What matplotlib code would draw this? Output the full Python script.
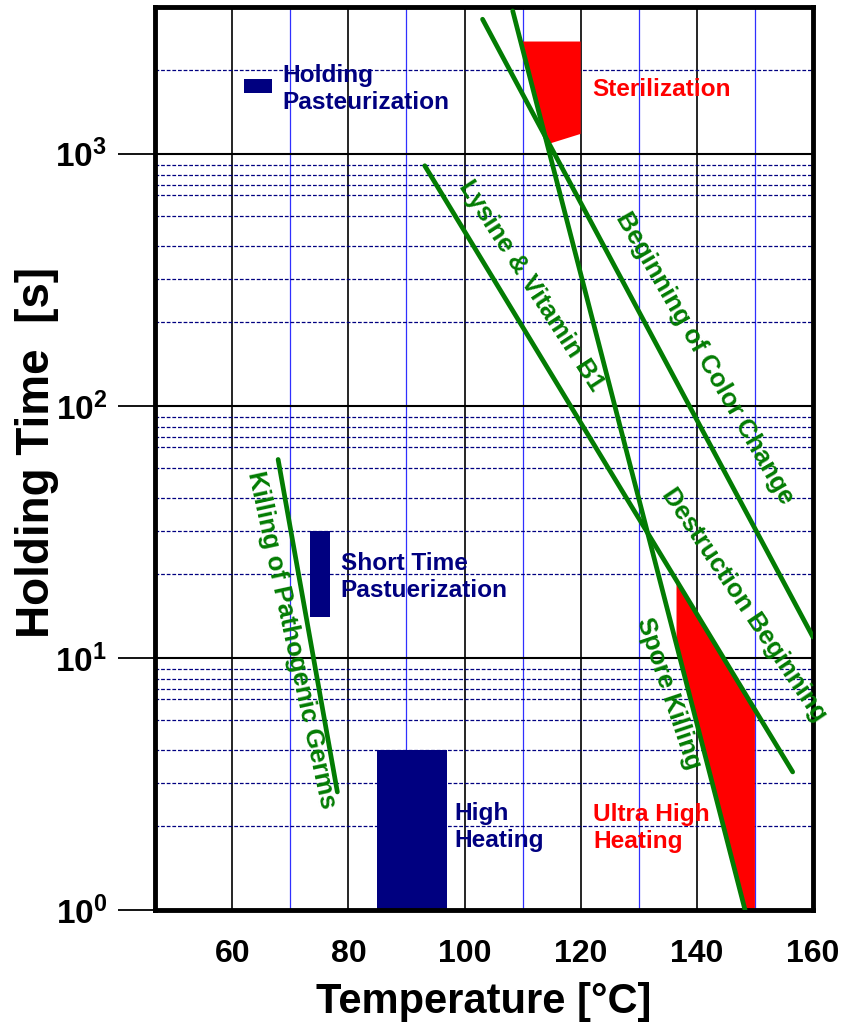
import numpy as np
import matplotlib
matplotlib.use("Agg")
import matplotlib.pyplot as plt
from matplotlib.ticker import FixedLocator, LogLocator, NullFormatter

plt.rcParams['font.family'] = ['Liberation Sans', 'DejaVu Sans']
plt.rcParams['font.weight'] = 'bold'

# --- data (temperature in C, time in s) ---
germs_temp = [67.9, 78.1]
germs_time = [61.3, 2.94]
color_temp = [103.1, 160.0]
color_time = [3420, 12.1]
spore_temp = [108.3, 148.3]
spore_time = [3690, 1.0]
lysine_temp = [93.15, 156.5]
lysine_time = [897, 3.53]

holding_temp = [62.0, 66.9]
holding_time = [1750, 1980]
short_temp = [73.4, 76.8]
short_time = [14.5, 31.8]
high_temp = [85.0, 97.0]
high_time = [1.0, 4.31]

ster_temp = [110, 120, 120, 114.2]
ster_time = [2790, 2790, 1200, 1090]
uht_temp = [136.5, 150, 150, 148.3, 136.5]
uht_time = [20.3, 6.3, 1.0, 1.0, 11.6]

x_major = [60, 80, 100, 120, 140, 160]
x_minor = [70, 90, 110, 130, 150]
y_minor_mult = [2.15, 3.2, 4.3, 5.65, 6.85, 7.5, 8.25, 9.05]

navy = '#000080'
green = '#037c03'
red = '#ff0000'

fig = plt.figure(figsize=(8.53, 10.26), dpi=100)
ax = fig.add_axes([155 / 853, 1 - 910 / 1026, (813 - 155) / 853, (910 - 7.3) / 1026])
ax.set_yscale('log')
ax.set_xlim(46.7, 160)
ax.set_ylim(1, 3814)

# grid
ax.set_axisbelow(True)
ax.xaxis.set_major_locator(FixedLocator(x_major))
ax.xaxis.set_minor_locator(FixedLocator(x_minor))
ax.yaxis.set_major_locator(LogLocator(base=10))
minor_y = [m * 10 ** d for d in range(0, 4) for m in y_minor_mult if m * 10 ** d < 2500]
ax.yaxis.set_minor_locator(FixedLocator(minor_y))
ax.yaxis.set_minor_formatter(NullFormatter())
ax.xaxis.grid(True, which='major', color='black', lw=1.2)
ax.xaxis.grid(True, which='minor', color='#3030ff', lw=0.9)
ax.yaxis.grid(True, which='major', color='black', lw=1.5)
ax.yaxis.grid(True, which='minor', color=navy, lw=0.9, linestyle=(0, (3, 1.5)))

ax.tick_params(axis='x', which='both', length=0, labelsize=23, pad=21)
ax.tick_params(axis='y', which='major', direction='out', length=26.6, width=1.3,
               labelsize=24, pad=8)
ax.tick_params(axis='y', which='minor', length=0)
for lab in ax.get_xticklabels() + ax.get_yticklabels():
    lab.set_fontweight('bold')

for s in ax.spines.values():
    s.set_linewidth(3.5)

# regions
ax.fill(ster_temp, ster_time, color=red, lw=0, zorder=2)
ax.fill(uht_temp, uht_time, color=red, lw=0, zorder=2)
ax.fill_between(holding_temp, holding_time[0], holding_time[1], color=navy, lw=0, zorder=2)
ax.fill_between(short_temp, short_time[0], short_time[1], color=navy, lw=0, zorder=2)
ax.fill_between(high_temp, high_time[0], high_time[1], color=navy, lw=0, zorder=2)

# green lines
for tx, ty in [(germs_temp, germs_time), (color_temp, color_time),
               (spore_temp, spore_time), (lysine_temp, lysine_time)]:
    ax.plot(tx, ty, color=green, lw=3.4, solid_capstyle='round', zorder=3)

# labels
fs = 17.6
ax.text(68.7, 1505, 'Holding\nPasteurization', color=navy, fontsize=fs,
        fontweight='bold', va='baseline', ha='left', linespacing=1.25)
ax.text(122.0, 1699, 'Sterilization', color=red, fontsize=fs,
        fontweight='bold', va='baseline', ha='left')
ax.text(78.7, 17.43, 'Short Time\nPastuerization', color=navy, fontsize=fs,
        fontweight='bold', va='baseline', ha='left', linespacing=1.25)
ax.text(98.3, 1.777, 'High\nHeating', color=navy, fontsize=fs,
        fontweight='bold', va='baseline', ha='left', linespacing=1.25)
ax.text(122.1, 1.756, 'Ultra High\nHeating', color=red, fontsize=fs,
        fontweight='bold', va='baseline', ha='left', linespacing=1.25)

gfs = 18.5
green_labels = [
    (70.2, 11.75, 'Killing of Pathogenic Germs', -77.7),
    (111.4, 301, 'Lysine & Vitamin B1', -57),
    (141.3, 154, 'Beginning of Color Change', -60),
    (148.2, 16.2, 'Destruction Beginning', -56),
    (135.2, 7.22, 'Spore Killing', -71.4),
]
for gx, gy, txt, rot in green_labels:
    ax.text(gx, gy, txt, color=green, fontsize=gfs, fontweight='bold',
            rotation=rot, rotation_mode='anchor', ha='center', va='center', zorder=4)

fig.text(37 / 853, 1 - 452 / 1026, 'Holding Time  [s]', rotation=90, ha='center',
         va='center', fontsize=33, fontweight='bold')
fig.text(484 / 853, 1 - 1002 / 1026, 'Temperature [°C]', ha='center', va='center',
         fontsize=30, fontweight='bold')

fig.savefig('out.png', dpi=100)
